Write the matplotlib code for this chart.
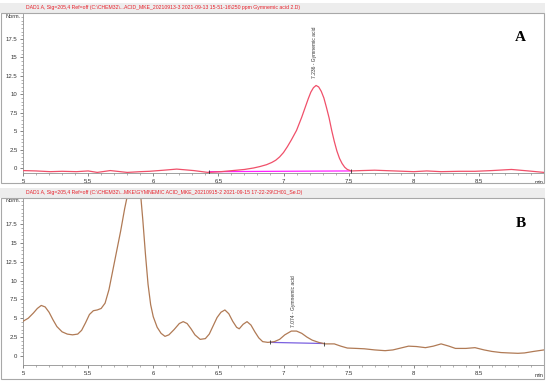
import numpy as np
import matplotlib.pyplot as plt
from matplotlib.patches import Rectangle

plt.rcParams['font.family'] = ['Liberation Sans', 'DejaVu Sans']

# panel A: 250 ppm gymnemic acid standard
xa = [5.0, 5.1, 5.21, 5.3, 5.41, 5.5, 5.57, 5.67, 5.8, 5.9, 5.97, 6.08, 6.18, 6.31, 6.42, 6.52,
      6.61, 6.7, 6.77, 6.82, 6.87, 6.91, 6.94, 6.97, 7.0, 7.03, 7.06, 7.1, 7.14, 7.17, 7.19,
      7.21, 7.23, 7.25, 7.27, 7.29, 7.31, 7.33, 7.35, 7.37, 7.39, 7.41, 7.43, 7.45, 7.47,
      7.49, 7.52, 7.6, 7.7, 7.85, 8.0, 8.1, 8.21, 8.35, 8.47, 8.6, 8.75, 8.88, 9.0]
ya = [-0.35, -0.4, -0.5, -0.45, -0.5, -0.4, -0.6, -0.35, -0.6, -0.5, -0.45, -0.3, -0.15, -0.35, -0.6, -0.5,
      -0.35, -0.2, 0.0, 0.2, 0.45, 0.75, 1.05, 1.5, 2.1, 2.9, 3.8, 5.1, 6.9, 8.4, 9.4,
      10.3, 10.9, 11.2, 11.0, 10.4, 9.5, 8.2, 6.8, 5.1, 3.6, 2.3, 1.3, 0.6, 0.1,
      -0.2, -0.4, -0.35, -0.3, -0.4, -0.5, -0.4, -0.5, -0.45, -0.45, -0.35, -0.2, -0.4, -0.6]
base_a = ([6.43, 7.52], [-0.5, -0.4])

# panel B: sample extract
xb = [5.0, 5.04, 5.08, 5.11, 5.14, 5.17, 5.2, 5.23, 5.26, 5.3, 5.34, 5.38, 5.42, 5.45, 5.48,
      5.51, 5.54, 5.57, 5.6, 5.63, 5.66, 5.69, 5.72, 5.75, 5.78, 5.81, 5.84, 5.87, 5.9, 5.92,
      5.94, 5.96, 5.98, 6.0, 6.03, 6.06, 6.09, 6.12, 6.16, 6.2, 6.23, 6.26, 6.29, 6.32, 6.36,
      6.4, 6.43, 6.46, 6.49, 6.52, 6.55, 6.58, 6.61, 6.64, 6.66, 6.69, 6.72, 6.75, 6.78, 6.81,
      6.84, 6.88, 6.93, 6.97, 7.01, 7.06, 7.1, 7.14, 7.18, 7.22, 7.27, 7.32, 7.39, 7.44, 7.49,
      7.56, 7.62, 7.7, 7.78, 7.84, 7.9, 7.96, 8.02, 8.09, 8.15, 8.21, 8.27, 8.32, 8.4, 8.47,
      8.54, 8.6, 8.67, 8.73, 8.8, 8.85, 8.92, 9.0]
yb = [4.6, 5.0, 5.7, 6.3, 6.7, 6.5, 5.8, 4.8, 3.9, 3.2, 2.9, 2.8, 2.9, 3.4, 4.4,
      5.5, 6.0, 6.1, 6.3, 7.0, 8.8, 11.4, 14.0, 16.6, 19.5, 22.0, 23.8, 24.0, 22.0, 18.0,
      13.5, 9.5, 6.8, 5.2, 3.8, 3.0, 2.6, 2.8, 3.5, 4.3, 4.55, 4.3, 3.6, 2.8, 2.2,
      2.3, 2.9, 4.0, 5.1, 5.8, 6.1, 5.6, 4.6, 3.8, 3.6, 4.2, 4.55, 4.1, 3.2, 2.4,
      1.9, 1.8, 1.9, 2.2, 2.8, 3.3, 3.3, 3.0, 2.5, 2.1, 1.8, 1.6, 1.6, 1.3, 1.05,
      1.0, 0.95, 0.8, 0.7, 0.8, 1.05, 1.3, 1.25, 1.1, 1.3, 1.6, 1.3, 1.0, 1.0, 1.1,
      0.8, 0.6, 0.45, 0.4, 0.35, 0.4, 0.6, 0.8]
base_b = ([6.9, 7.31], [1.8, 1.65])

titles = [r"DAD1 A, Sig=205,4 Ref=off (C:\CHEM32\...ACID_MKE_20210913-3 2021-09-13 15-51-16\250 ppm Gymnemic acid 2.D)",
          r"DAD1 A, Sig=205,4 Ref=off (C:\CHEM32\...MKE\GYMNEMIC ACID_MKE_20210915-2 2021-09-15 17-22-29\CH01_Se.D)"]
peak_labels = ["7.236 - Gymnemic acid", "7.074 - Gymnemic acid"]
peak_pos = [(7.236, 12.2), (7.074, 3.9)]
letters = ["A", "B"]
xtick_vals = [5, 5.5, 6, 6.5, 7, 7.5, 8, 8.5]
ytick_vals = [0, 2.5, 5, 7.5, 10, 12.5, 15, 17.5]

W, H = 550, 381
fig = plt.figure(figsize=(W / 100, H / 100), dpi=100)


def px(x0, y0, x1, y1):
    return [x0 / W, 1 - y1 / H, (x1 - x0) / W, (y1 - y0) / H]


panels = [
    dict(head=(3, 13), frame=(13, 183), ax=(14, 173), ylim=(-0.68, 20.9),
         x=xa, y=ya, base=base_a, col='#f0506a', bcol='#ff20ff'),
    dict(head=(188, 198), frame=(198, 379), ax=(198, 365), ylim=(-1.2, 20.95),
         x=xb, y=yb, base=base_b, col='#b07a55', bcol='#7a60e0'),
]

for i, p in enumerate(panels):
    h0, h1 = p['head']
    fig.patches.append(Rectangle((0, 1 - h1 / H), 545 / W, (h1 - h0) / H,
                                 transform=fig.transFigure, facecolor='#ededed',
                                 edgecolor='none', zorder=0))
    fig.text(26 / W, 1 - (h0 + h1) / 2 / H, titles[i], color='#e8202a',
             fontsize=3.7, va='center', ha='left')
    f0, f1 = p['frame']
    fig.patches.append(Rectangle((1 / W, 1 - f1 / H), 543 / W, (f1 - f0) / H,
                                 transform=fig.transFigure, facecolor='none',
                                 edgecolor='#a8a8a8', lw=0.8, zorder=0))

    ax = fig.add_axes(px(23, p['ax'][0], 544, p['ax'][1]))
    ax.set_facecolor('none')
    ax.plot(p['x'], p['y'], color=p['col'], lw=0.9, zorder=3)
    ax.plot(p['base'][0], p['base'][1], color=p['bcol'], lw=0.9, zorder=2)
    ax.plot(p['base'][0], p['base'][1], '|', color='#333333', ms=3, mew=0.6, zorder=4)
    ax.set_xlim(4.9999, 9.0)
    ax.set_ylim(*p['ylim'])
    ax.set_xticks(xtick_vals)
    ax.set_xticklabels([f'{v:g}' for v in xtick_vals])
    ax.set_yticks(ytick_vals)
    ax.set_yticklabels([f'{v:g}' for v in ytick_vals])
    ax.set_xticks(np.arange(5, 9.0, 0.1), minor=True)
    ax.set_yticks(np.arange(0, 20.6, 0.5), minor=True)
    ax.tick_params(labelsize=4.3, length=2.5, width=0.5, colors='#555555', pad=1.5)
    ax.tick_params(which='minor', length=1.2, width=0.4, colors='#777777')
    ax.tick_params(axis='x', labelcolor='#333333')
    ax.tick_params(axis='y', labelcolor='#333333')
    for s in ['top', 'right']:
        ax.spines[s].set_visible(False)
    for s in ['left', 'bottom']:
        ax.spines[s].set_color('#909090')
        ax.spines[s].set_linewidth(0.6)
    ax.text(1.0, -0.045, 'min', transform=ax.transAxes, fontsize=4, color='#333333',
            ha='right', va='top')
    ax.text(-0.005, 1.0, 'Norm.', transform=ax.transAxes, fontsize=4, color='#333333',
            ha='right', va='top')
    ax.text(peak_pos[i][0], peak_pos[i][1], peak_labels[i], rotation=90, fontsize=3.6,
            color='#333333', ha='center', va='bottom')
    ax.text(0.955, 0.85, letters[i], transform=ax.transAxes, fontsize=11,
            fontweight='bold', family='Liberation Serif', ha='center', va='center')

fig.savefig('out.png', dpi=100)
